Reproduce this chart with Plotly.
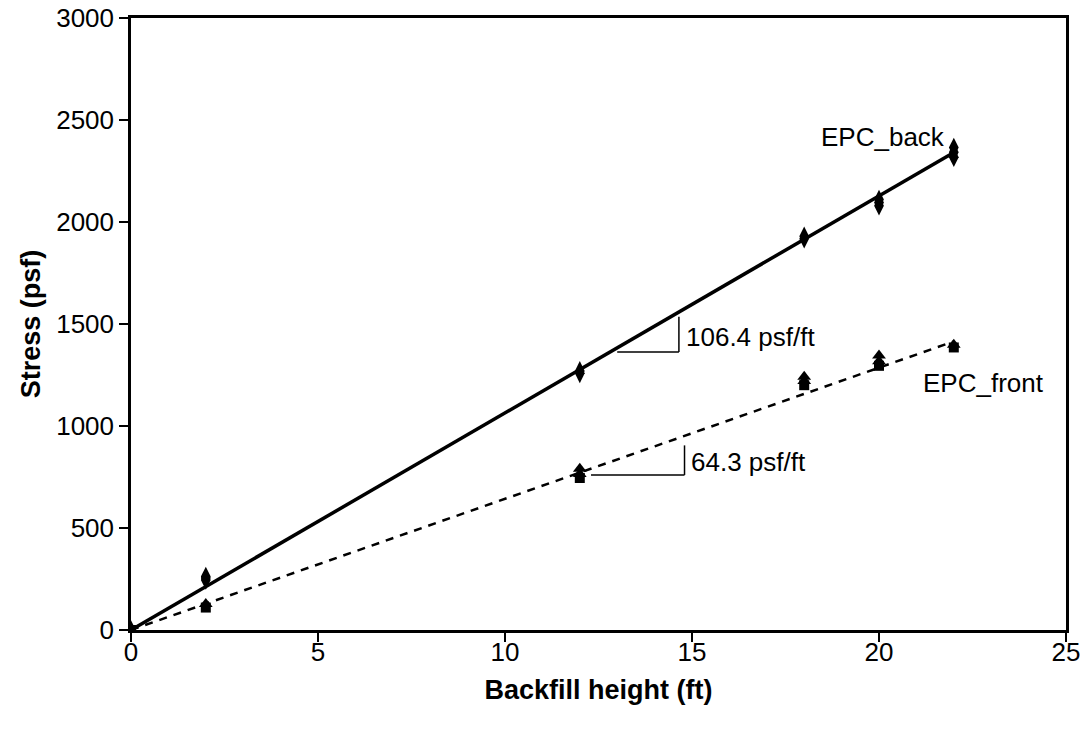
import plotly.graph_objects as go

# Earth pressure cell readings vs. backfill height
back_x = [0, 2, 2, 2, 12, 12, 18, 18, 20, 20, 20, 22, 22, 22]
back_y = [0, 245, 255, 262, 1258, 1270, 1918, 1930, 2080, 2095, 2110, 2318, 2342, 2365]

front_tri_x = [0, 2, 12, 12, 18, 18, 20, 20, 22]
front_tri_y = [0, 128, 765, 790, 1220, 1242, 1318, 1345, 1398]

front_sq_x = [0, 2, 12, 18, 20, 22]
front_sq_y = [0, 110, 745, 1200, 1295, 1385]

# Fitted slopes (psf per ft of backfill)
slope_back = 106.4
slope_front = 64.3
fit_x = [0, 22]

FONT = "Liberation Sans, Arial, sans-serif"
TXT_SIZE = 26
TITLE_SIZE = 27

fig = go.Figure()

fig.add_trace(go.Scatter(
    x=fit_x, y=[slope_back * v for v in fit_x], mode="lines",
    line=dict(color="black", width=3.5), showlegend=False, hoverinfo="skip"))
fig.add_trace(go.Scatter(
    x=fit_x, y=[slope_front * v for v in fit_x], mode="lines",
    line=dict(color="black", width=2.5, dash="8px,7px"), showlegend=False, hoverinfo="skip"))

fig.add_trace(go.Scatter(
    x=back_x, y=back_y, mode="markers", name="EPC_back",
    marker=dict(symbol="diamond-tall", size=14, color="black"), showlegend=False))
fig.add_trace(go.Scatter(
    x=front_sq_x, y=front_sq_y, mode="markers", name="EPC_front",
    marker=dict(symbol="square", size=10, color="black"), showlegend=False))
fig.add_trace(go.Scatter(
    x=front_tri_x, y=front_tri_y, mode="markers", name="EPC_front",
    marker=dict(symbol="triangle-up", size=12, color="black"), showlegend=False))

# Slope triangles
tri_line = dict(color="black", width=1.5)
fig.add_shape(type="line", x0=13.0, y0=1363, x1=14.65, y1=1363, line=tri_line)
fig.add_shape(type="line", x0=14.65, y0=1363, x1=14.65, y1=1535, line=tri_line)
fig.add_shape(type="line", x0=12.3, y0=760, x1=14.8, y1=760, line=tri_line)
fig.add_shape(type="line", x0=14.8, y0=760, x1=14.8, y1=905, line=tri_line)

txt = dict(family=FONT, size=TXT_SIZE, color="black")
fig.add_annotation(x=14.78, y=1436, text="106.4 psf/ft", showarrow=False,
                   xanchor="left", yanchor="middle", font=txt)
fig.add_annotation(x=14.92, y=824, text="64.3 psf/ft", showarrow=False,
                   xanchor="left", yanchor="middle", font=txt)
fig.add_annotation(x=21.82, y=2417, text="EPC_back", showarrow=False,
                   xanchor="right", yanchor="middle", font=txt)
fig.add_annotation(x=21.12, y=1211, text="EPC_front", showarrow=False,
                   xanchor="left", yanchor="middle", font=txt)

axis_common = dict(
    showgrid=False, zeroline=False, showline=True, linecolor="black", linewidth=2.5,
    mirror=True, ticks="outside", ticklen=9, tickwidth=2, tickcolor="black",
    automargin=False,
    tickfont=dict(family=FONT, size=TXT_SIZE, color="black"))

fig.update_xaxes(range=[0, 25], tick0=0, dtick=5, ticklabelstandoff=-12,
                 title=dict(text="<b>Backfill height (ft)</b>",
                            font=dict(family=FONT, size=TITLE_SIZE, color="black"), standoff=15),
                 **axis_common)
fig.update_yaxes(range=[0, 3000], tick0=0, dtick=500,
                 title=dict(text="<b>Stress (psf)</b>",
                            font=dict(family=FONT, size=TITLE_SIZE, color="black"), standoff=8),
                 **axis_common)

fig.update_layout(
    width=1087, height=734,
    margin=dict(l=131, r=21, t=18, b=104),
    plot_bgcolor="white", paper_bgcolor="white",
)

fig.write_html("out.html")
